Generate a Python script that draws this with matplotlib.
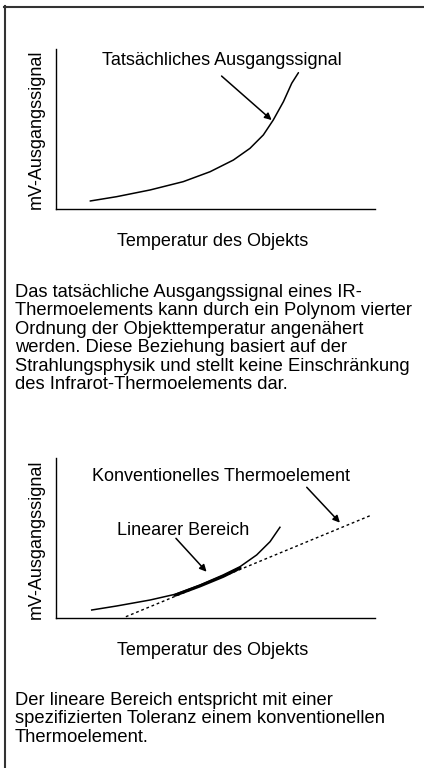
import matplotlib
matplotlib.use("Agg")
import matplotlib.pyplot as plt
from matplotlib.lines import Line2D

plt.rcParams['font.family'] = ['Liberation Sans', 'DejaVu Sans']

W, H = 424, 768
FS = 13
FSP = 13.2

# ---------- data (relative units, 0..100) ----------
temp_actual = [10.7, 19.0, 29.5, 39.9, 48.3, 55.6, 60.8, 65.0, 68.1, 71.3, 73.9, 76.0]
signal_actual = [5.0, 7.7, 11.9, 17.1, 23.3, 30.6, 37.9, 46.3, 55.6, 67.1, 78.6, 85.2]

temp_ir = [11.2, 19.0, 29.5, 37.3, 45.1, 52.4, 57.7, 62.9, 67.1, 70.2]
signal_ir = [5.0, 7.5, 11.25, 14.8, 20.6, 26.9, 32.1, 39.4, 47.7, 56.7]

temp_conv = [21.9, 98.4]
signal_conv = [0.8, 63.9]

temp_linear = [37.3, 45.1, 52.4, 57.7]
signal_linear = [14.2, 20.0, 26.0, 31.2]

title_actual = "Tatsächliches Ausgangssignal"
title_conv = "Konventionelles Thermoelement"
title_linear = "Linearer Bereich"
ylabel = "mV-Ausgangssignal"
xlabel = "Temperatur des Objekts"

para1 = ["Das tatsächliche Ausgangssignal eines IR-",
         "Thermoelements kann durch ein Polynom vierter",
         "Ordnung der Objekttemperatur angenähert",
         "werden. Diese Beziehung basiert auf der",
         "Strahlungsphysik und stellt keine Einschränkung",
         "des Infrarot-Thermoelements dar."]
para2 = ["Der lineare Bereich entspricht mit einer",
         "spezifizierten Toleranz einem konventionellen",
         "Thermoelement."]

fig = plt.figure(figsize=(W / 100, H / 100), dpi=100)
fig.patch.set_facecolor('white')


def fx(x):
    return x / W


def fy(y):
    return 1 - y / H


def make_axes(left, right, top, bottom):
    ax = fig.add_axes([fx(left), fy(bottom), (right - left) / W, (bottom - top) / H])
    ax.set_xlim(0, 100)
    ax.set_ylim(0, 100)
    for s in ['top', 'right']:
        ax.spines[s].set_visible(False)
    for s in ['left', 'bottom']:
        ax.spines[s].set_linewidth(1.0)
        ax.spines[s].set_color('black')
    ax.set_xticks([])
    ax.set_yticks([])
    ax.patch.set_alpha(0)
    return ax


arrow_kw = dict(arrowstyle='-|>', lw=1.1, color='black', mutation_scale=10,
                shrinkA=0, shrinkB=0)

# ---------- chart 1 ----------
ax1 = make_axes(56, 375, 49, 209)
ax1.plot(temp_actual, signal_actual, color='black', lw=1.1, solid_capstyle='round')
fig.text(fx(221.7), fy(65), title_actual, ha='center', va='baseline', fontsize=FS)
ax1.annotate('', xy=(67.6, 55.6), xytext=(51.9, 83.1), arrowprops=arrow_kw)
fig.text(fx(36), fy(129), ylabel, rotation=90, ha='center', va='center', fontsize=FS)
fig.text(fx(213), fy(245.7), xlabel, ha='center', va='baseline', fontsize=FS)

# ---------- paragraph 1 ----------
for i, line in enumerate(para1):
    fig.text(fx(15), fy(297 + i * 18.4), line, ha='left', va='baseline', fontsize=FSP)

# ---------- chart 2 ----------
ax2 = make_axes(56, 375, 458, 618)
ax2.plot(temp_ir, signal_ir, color='black', lw=1.1)
ax2.plot(temp_conv, signal_conv, color='black', lw=1.0, ls=(0, (2, 2)))
ax2.plot(temp_linear, signal_linear, color='black', lw=2.2, solid_capstyle='round')
fig.text(fx(221), fy(480.7), title_conv, ha='center', va='baseline', fontsize=FS)
ax2.annotate('', xy=(89.0, 59.6), xytext=(78.6, 81.7), arrowprops=arrow_kw)
fig.text(fx(183), fy(535.3), title_linear, ha='center', va='baseline', fontsize=FS)
ax2.annotate('', xy=(47.2, 28.9), xytext=(37.6, 49.8), arrowprops=arrow_kw)
fig.text(fx(36), fy(539), ylabel, rotation=90, ha='center', va='center', fontsize=FS)
fig.text(fx(213), fy(654.7), xlabel, ha='center', va='baseline', fontsize=FS)

# ---------- paragraph 2 ----------
for i, line in enumerate(para2):
    fig.text(fx(15), fy(705 + i * 18.4), line, ha='left', va='baseline', fontsize=FSP)

# ---------- frame ----------
fig.add_artist(Line2D([fx(3.5), fx(424)], [fy(7), fy(7)], color='#333333', lw=1.5,
                      transform=fig.transFigure))
fig.add_artist(Line2D([fx(4.5), fx(4.5)], [fy(6), fy(768)], color='#333333', lw=1.5,
                      transform=fig.transFigure))

fig.savefig('out.png', dpi=100, facecolor='white')
